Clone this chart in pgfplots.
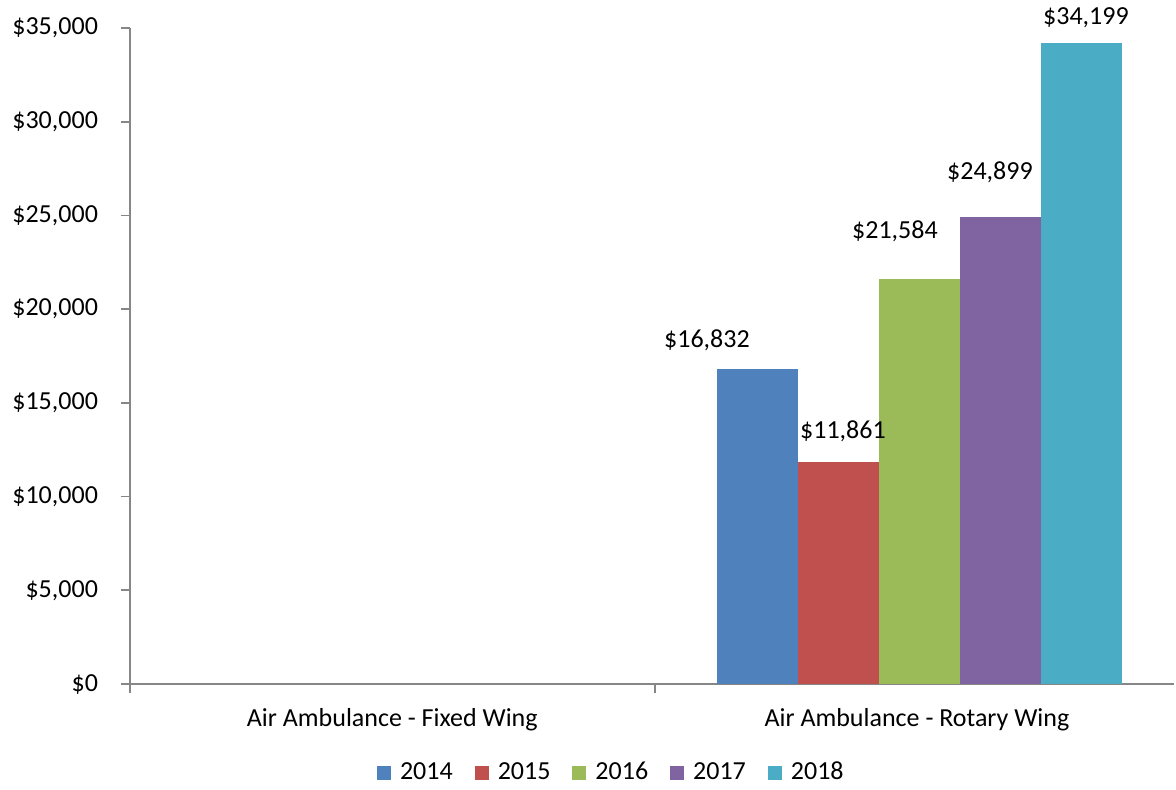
\documentclass[border=0pt]{standalone}
\usepackage{fontspec}
\setmainfont{Carlito}
\usepackage{pgfplots}
\pgfplotsset{compat=1.18}
\definecolor{cA}{HTML}{4F81BD}
\definecolor{cB}{HTML}{C0504D}
\definecolor{cC}{HTML}{9BBB59}
\definecolor{cD}{HTML}{8064A2}
\definecolor{cE}{HTML}{4BACC6}
\definecolor{axgray}{HTML}{868686}
\newcommand{\f}{\fontsize{13}{15.6}\selectfont}
\begin{document}
\begin{tikzpicture}
\path[use as bounding box] (-65pt,-52.5pt) rectangle (523pt,342pt);
\begin{axis}[
  at={(0pt,0pt)}, anchor=south west,
  scale only axis, width=522pt, height=328pt,
  xmin=-0.5, xmax=1.49, ymin=0, ymax=35000,
  ybar=0pt, bar width=40.5pt,
  axis x line*=bottom, axis y line*=left,
  axis line style={draw=axgray, line width=0.9pt, -},
  tick align=outside,
  scaled y ticks=false,
  xtick={0,1},
  xticklabels={Air Ambulance - Fixed Wing, Air Ambulance - Rotary Wing},
  major x tick style={draw=none},
  minor xtick={-0.5,0.5},
  minor tick length=4.5pt,
  minor x tick style={draw=axgray, line width=0.9pt},
  major tick length=4.5pt,
  y tick style={draw=axgray, line width=0.9pt},
  ytick={0,5000,10000,15000,20000,25000,30000,35000},
  yticklabels={{\$0},{\$5,000},{\$10,000},{\$15,000},{\$20,000},{\$25,000},{\$30,000},{\$35,000}},
  yticklabel style={font=\f, anchor=east, xshift=-8pt},
  xticklabel style={font=\f, anchor=base, yshift=-16.5pt},
  point meta=explicit symbolic,
  nodes near coords,
  every node near coord/.append style={font=\f, anchor=center, text=black},
  legend style={at={(0.462,-0.1349)}, anchor=center, draw=none, fill=none,
    legend columns=5, font=\f,
    /tikz/every odd column/.append style={column sep=2.5pt},
    /tikz/every even column/.append style={column sep=9pt}},
  legend image code/.code={\fill[#1] (0pt,-3.5pt) rectangle (7pt,3.5pt);},
]
\addplot+[fill=cA, draw=none, bar shift=-79.5pt, every node near coord/.append style={xshift=-25.5pt, yshift=14.3pt}]
  coordinates {(1,16832) [\$16,832]};
\addplot+[fill=cB, draw=none, bar shift=-39pt, every node near coord/.append style={xshift=2pt, yshift=15pt}]
  coordinates {(1,11861) [\$11,861]};
\addplot+[fill=cC, draw=none, bar shift=1.5pt, every node near coord/.append style={xshift=-12.5pt, yshift=24pt}]
  coordinates {(1,21584) [\$21,584]};
\addplot+[fill=cD, draw=none, bar shift=42pt, every node near coord/.append style={xshift=-5.5pt, yshift=22.5pt}]
  coordinates {(1,24899) [\$24,899]};
\addplot+[fill=cE, draw=none, bar shift=82.5pt, every node near coord/.append style={xshift=2pt, yshift=12.5pt}]
  coordinates {(1,34199) [\$34,199]};
\legend{2014,2015,2016,2017,2018}
\end{axis}
\end{tikzpicture}
\end{document}
